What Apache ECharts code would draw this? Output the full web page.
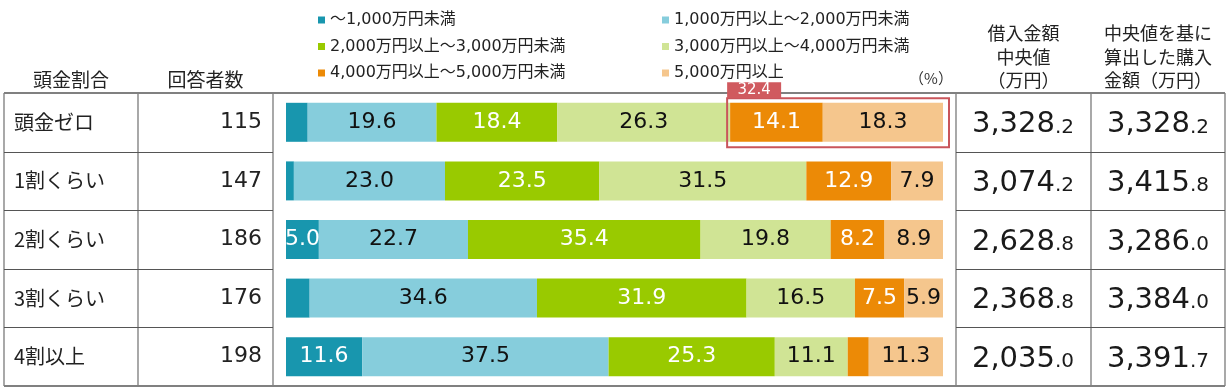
<!DOCTYPE html>
<html>
<head>
<meta charset="utf-8">
<script src="https://cdn.jsdelivr.net/npm/echarts@6/dist/echarts.min.js"></script>
<style>
html,body{margin:0;padding:0;background:#fff;}
#chart{width:1229px;height:390px;}
</style>
</head>
<body>
<div id="chart"></div>
<script>
// ---- data ----
const categories = ['頭金ゼロ', '1割くらい', '2割くらい', '3割くらい', '4割以上'];
const respondents = [115, 147, 186, 176, 198];
const seriesNames = ['～1,000万円未満', '1,000万円以上～2,000万円未満', '2,000万円以上～3,000万円未満', '3,000万円以上～4,000万円未満', '4,000万円以上～5,000万円未満', '5,000万円以上'];
const under1000 = [3.3, 1.2, 5.0, 3.6, 11.6];
const from1000to2000 = [19.6, 23.0, 22.7, 34.6, 37.5];
const from2000to3000 = [18.4, 23.5, 35.4, 31.9, 25.3];
const from3000to4000 = [26.3, 31.5, 19.8, 16.5, 11.1];
const from4000to5000 = [14.1, 12.9, 8.2, 7.5, 3.2];
const over5000 = [18.3, 7.9, 8.9, 5.9, 11.3];
const medianLoan = [3328.2, 3074.2, 2628.8, 2368.8, 2035.0];
const purchaseAmount = [3328.2, 3415.8, 3286.0, 3384.0, 3391.7];
const headerLeft = ['頭金割合', '回答者数'];
const headerRight = ['借入金額\n中央値\n（万円）', '中央値を基に\n算出した購入\n金額（万円）'];
const unitLabel = '（%）';

// ---- styling ----
const colors = ['#1896AE', '#86CDDC', '#99CA00', '#D0E495', '#EC8A06', '#F5C68D'];
const labelColors = ['#fff', '#111', '#fff', '#111', '#fff', '#111'];
const JP = '"Noto Sans CJK JP", sans-serif';
const NUM = '"DejaVu Sans", "Noto Sans CJK JP", sans-serif';
const allSeries = [under1000, from1000to2000, from2000to3000, from3000to4000, from4000to5000, over5000];

function splitNum(v) {
  const s = v.toFixed(1);
  const parts = s.split('.');
  const intPart = parts[0].replace(/\B(?=(\d{3})+(?!\d))/g, ',');
  return '{a|' + intPart + '}{b|.' + parts[1] + '}';
}

const chart = echarts.init(document.getElementById('chart'));

const GRID = {left: 286, right: 286, top: 93, bottom: 4};

const valueRich = {
  a: {fontSize: 29, fontFamily: NUM, color: '#1a1a1a', lineHeight: 34, verticalAlign: 'bottom'},
  b: {fontSize: 20, fontFamily: NUM, color: '#1a1a1a', lineHeight: 34, verticalAlign: 'bottom', padding: [0, 0, 2, 0]}
};

const option = {
  animation: false,
  grid: Object.assign({containLabel: false, outerBoundsMode: 'none'}, GRID),
  xAxis: {type: 'value', min: 0, max: 100, show: false},
  yAxis: [
    {type: 'category', inverse: true, data: categories, position: 'left',
      axisLine: {show: false}, axisTick: {show: false}, splitLine: {show: false},
      axisLabel: {margin: 272, align: 'left', fontSize: 20, fontFamily: JP, color: '#222'}},
    {type: 'category', inverse: true, data: categories, position: 'left',
      axisLine: {show: false}, axisTick: {show: false}, splitLine: {show: false},
      axisLabel: {margin: 24, align: 'right', fontSize: 22, fontFamily: NUM, color: '#222',
        formatter: (v, i) => String(respondents[i])}},
    {type: 'category', inverse: true, data: categories, position: 'right',
      axisLine: {show: false}, axisTick: {show: false}, splitLine: {show: false},
      axisLabel: {margin: 80, align: 'center', rich: valueRich,
        formatter: (v, i) => splitNum(medianLoan[i])}},
    {type: 'category', inverse: true, data: categories, position: 'right',
      axisLine: {show: false}, axisTick: {show: false}, splitLine: {show: false},
      axisLabel: {margin: 215, align: 'center', rich: valueRich,
        formatter: (v, i) => splitNum(purchaseAmount[i])}}
  ],
  legend: [
    {orient: 'vertical', left: 313, top: 5, itemWidth: 7, itemHeight: 7, itemGap: 6.5, icon: 'rect',
      data: [seriesNames[0], seriesNames[2], seriesNames[4]],
      textStyle: {fontSize: 16, lineHeight: 20, fontFamily: NUM, color: '#222'}},
    {orient: 'vertical', left: 657, top: 5, itemWidth: 7, itemHeight: 7, itemGap: 6.5, icon: 'rect',
      data: [seriesNames[1], seriesNames[3], seriesNames[5]],
      textStyle: {fontSize: 16, lineHeight: 20, fontFamily: NUM, color: '#222'}}
  ],
  series: allSeries.map((arr, k) => ({
    name: seriesNames[k],
    type: 'bar',
    stack: 'total',
    barWidth: 39,
    data: arr,
    itemStyle: {color: colors[k]},
    label: {
      show: true, position: 'inside', fontSize: 22, fontFamily: NUM, color: labelColors[k],
      formatter: p => (p.value >= 4.5 ? p.value.toFixed(1) : '')
    }
  }))
};
chart.setOption(option);

// ---- table frame and annotations ----
function buildGraphics() {
  const H = 390;
  const top = GRID.top, bottom = H - GRID.bottom;
  const rowH = (bottom - top) / categories.length;
  const vx = [4, 138, 273, 956, 1091, 1225];
  const g = [];
  vx.forEach(x => g.push({type: 'line', shape: {x1: x, y1: top, x2: x, y2: bottom},
    style: {stroke: '#7a7a7a', lineWidth: 1.3}}));
  for (let i = 1; i < categories.length; i++) {
    const y = Math.round(top + rowH * i) + 0.5;
    g.push({type: 'line', shape: {x1: vx[0], y1: y, x2: vx[2], y2: y}, style: {stroke: '#555', lineWidth: 1}});
    g.push({type: 'line', shape: {x1: vx[3], y1: y, x2: vx[5], y2: y}, style: {stroke: '#555', lineWidth: 1}});
  }
  g.push({type: 'line', shape: {x1: vx[0], y1: top, x2: vx[5], y2: top}, style: {stroke: '#808080', lineWidth: 2}});
  g.push({type: 'line', shape: {x1: vx[0], y1: bottom, x2: vx[5], y2: bottom}, style: {stroke: '#808080', lineWidth: 2}});

  g.push({type: 'text', x: (vx[0] + vx[1]) / 2, y: 80, style: {text: headerLeft[0], align: 'center', verticalAlign: 'middle', fontSize: 19, fontFamily: JP, fill: '#222'}});
  g.push({type: 'text', x: (vx[1] + vx[2]) / 2, y: 80, style: {text: headerLeft[1], align: 'center', verticalAlign: 'middle', fontSize: 19, fontFamily: JP, fill: '#222'}});
  g.push({type: 'text', x: (vx[3] + vx[4]) / 2, y: 57, style: {text: headerRight[0], align: 'center', verticalAlign: 'middle', fontSize: 18, lineHeight: 23.5, fontFamily: JP, fill: '#222'}});
  g.push({type: 'text', x: (vx[4] + vx[5]) / 2, y: 57, style: {text: headerRight[1], align: 'center', verticalAlign: 'middle', fontSize: 18, lineHeight: 23.5, fontFamily: JP, fill: '#222'}});
  g.push({type: 'text', x: 931, y: 78, style: {text: unitLabel, align: 'center', verticalAlign: 'middle', fontSize: 15, fontFamily: JP, fill: '#333'}});

  const startVal = under1000[0] + from1000to2000[0] + from2000to3000[0] + from3000to4000[0];
  const endVal = startVal + from4000to5000[0] + over5000[0];
  const xs = chart.convertToPixel({xAxisIndex: 0}, startVal);
  const xe = chart.convertToPixel({xAxisIndex: 0}, endVal);
  const yc = chart.convertToPixel({yAxisIndex: 0}, categories[0]);
  const bx = xs - 3, by = yc - 24, bw = xe - xs + 9, bh = 49;
  g.push({type: 'rect', shape: {x: bx, y: by, width: bw, height: bh}, style: {fill: 'none', stroke: '#C9555B', lineWidth: 2}, z: 10});
  g.push({type: 'rect', shape: {x: bx, y: by - 16, width: 54, height: 16}, style: {fill: '#D05A5F'}, z: 10});
  g.push({type: 'text', x: bx + 27, y: by - 8, z: 11, style: {text: (endVal - startVal).toFixed(1), align: 'center', verticalAlign: 'middle', fontSize: 15, fontFamily: NUM, fill: '#fff'}});
  return g;
}
chart.setOption({graphic: buildGraphics()});
</script>
</body>
</html>
